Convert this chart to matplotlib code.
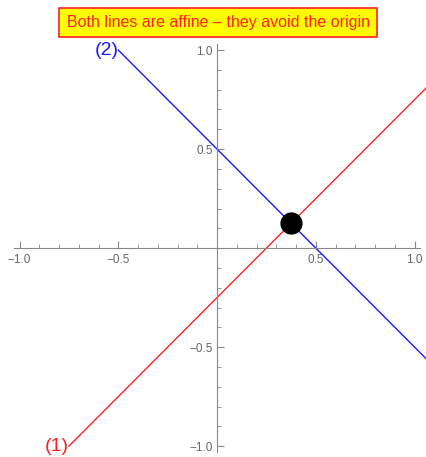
import numpy as np
import matplotlib
matplotlib.use('Agg')
import matplotlib.pyplot as plt

plt.rcParams['font.family'] = ['Liberation Sans', 'DejaVu Sans']

# line endpoints: (1) y = x - 1/4, (2) y = -x + 1/2
x1 = [-0.75, 1.06]
y1 = [-1.0, 0.81]
x2 = [-0.5, 1.06]
y2 = [1.0, -0.56]
pt = (0.375, 0.125)
tick_vals = [-1.0, -0.5, 0.5, 1.0]
tick_labels = ['\u22121.0', '\u22120.5', '0.5', '1.0']
title = "Both lines are affine \u2013 they avoid the origin"

fig = plt.figure(figsize=(4.26, 4.57), dpi=100)
ax = fig.add_axes([0, 0, 1, 1])
ax.set_xlim(-1.099, 1.058)
ax.set_ylim(-1.055, 1.253)

ax.plot(x1, y1, color='#ff2020', lw=1.0)
ax.plot(x2, y2, color='#1a1aff', lw=1.0)
ax.plot(*pt, 'o', color='black', ms=15, zorder=5)

ax.text(-0.75, -1.0, '(1)', color='#ff2020', fontsize=14, ha='right', va='center')
ax.text(-0.5, 1.0, '(2)', color='#1a1aff', fontsize=14, ha='right', va='center')

gray = '#888888'
for s in ['top', 'right']:
    ax.spines[s].set_visible(False)
ax.spines['left'].set_position(('data', 0))
ax.spines['bottom'].set_position(('data', 0))
ax.spines['left'].set_color(gray)
ax.spines['bottom'].set_color(gray)
ax.spines['left'].set_bounds(-1.03, 1.03)
ax.spines['bottom'].set_bounds(-1.03, 1.03)

minor = [t for t in np.arange(-1.0, 1.01, 0.1) if abs(t) > 1e-9]
ax.set_xticks(tick_vals)
ax.set_yticks(tick_vals)
ax.set_xticks(minor, minor=True)
ax.set_yticks(minor, minor=True)
ax.set_xticklabels(tick_labels)
ax.set_yticklabels(tick_labels)
ax.tick_params(axis='x', which='major', direction='in', length=5, color=gray, labelcolor='#666666', labelsize=8.5, pad=4)
ax.tick_params(axis='x', which='minor', direction='in', length=3, color=gray)
ax.tick_params(axis='y', which='major', direction='in', length=5, color=gray, labelcolor='#666666', labelsize=8.5, pad=3)
ax.tick_params(axis='y', which='minor', direction='in', length=3, color=gray)

fig.text(0.512, 0.951, title, color='#ff2020', fontsize=11.5, ha='center', va='center',
         bbox=dict(boxstyle='square,pad=0.45', facecolor='#ffff00', edgecolor='#ff2020', lw=1.2))

fig.savefig('out.png', dpi=100)
